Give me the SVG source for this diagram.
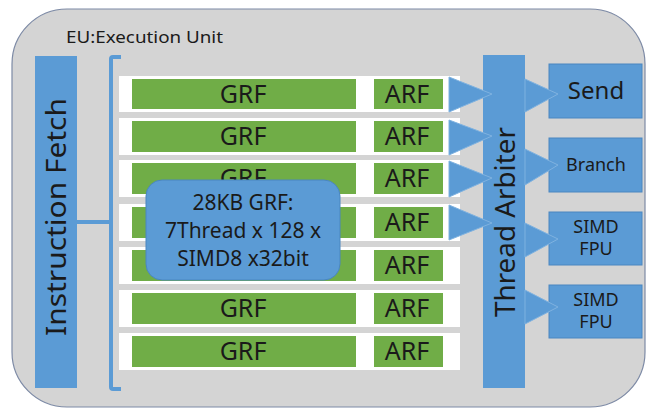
<svg xmlns="http://www.w3.org/2000/svg" width="651" height="410" viewBox="0 0 651 410">
<style>
.t{font-family:"Noto Sans","Liberation Sans",sans-serif;fill:#1a1a1a;text-anchor:middle}
.blue{fill:#5b9bd5}
.box{fill:#5b9bd5;stroke:#4a86c0;stroke-width:1}
.tri{fill:#5b9bd5;stroke:#7fb2e0;stroke-width:1}
.row{fill:#ffffff}
.grn{fill:#70ad47}
.big{font-size:25px}
.sm{font-size:18px}
</style>
<rect x="12" y="9" width="633" height="398" rx="55" ry="55" fill="#d4d4d4" stroke="#7d8aa5" stroke-width="1.2"/>
<text x="66" y="43" class="t" style="text-anchor:start;font-size:17px" textLength="157" lengthAdjust="spacingAndGlyphs">EU:Execution Unit</text>

<g id="connectors">
<path d="M77 222 H111" stroke="#5b9bd5" stroke-width="4" fill="none"/>
<path d="M121 57 H113 Q111 57 111 59 V387 Q111 389 113 389 H121" stroke="#5b9bd5" stroke-width="4" fill="none"/>
</g>

<g id="instruction-fetch">
<rect x="35" y="56" width="42" height="332" class="blue"/>
<text class="t" transform="translate(66 217) rotate(-90)" style="font-size:28px" textLength="238" lengthAdjust="spacingAndGlyphs">Instruction Fetch</text>
</g>

<g id="row1"><rect x="119" y="76" width="341" height="36" class="row"/><rect x="132" y="79" width="224" height="30" class="grn"/><rect x="374" y="79" width="69" height="30" class="grn"/><text x="243" y="103" class="t big">GRF</text><text x="407" y="103" class="t big">ARF</text></g>
<g id="row2"><rect x="119" y="118" width="341" height="37" class="row"/><rect x="132" y="121" width="224" height="31" class="grn"/><rect x="374" y="121" width="69" height="31" class="grn"/><text x="243" y="145" class="t big">GRF</text><text x="407" y="145" class="t big">ARF</text></g>
<g id="row3"><rect x="119" y="160" width="341" height="37" class="row"/><rect x="132" y="163" width="224" height="31" class="grn"/><rect x="374" y="163" width="69" height="31" class="grn"/><text x="243" y="187" class="t big">GRF</text><text x="407" y="187" class="t big">ARF</text></g>
<g id="row4"><rect x="119" y="204" width="341" height="37" class="row"/><rect x="132" y="207" width="224" height="31" class="grn"/><rect x="374" y="207" width="69" height="31" class="grn"/><text x="407" y="231" class="t big">ARF</text></g>
<g id="row5"><rect x="119" y="247" width="341" height="37" class="row"/><rect x="132" y="250" width="224" height="31" class="grn"/><rect x="374" y="250" width="69" height="31" class="grn"/><text x="407" y="274" class="t big">ARF</text></g>
<g id="row6"><rect x="119" y="290" width="341" height="37" class="row"/><rect x="132" y="293" width="224" height="31" class="grn"/><rect x="374" y="293" width="69" height="31" class="grn"/><text x="243" y="317" class="t big">GRF</text><text x="407" y="317" class="t big">ARF</text></g>
<g id="row7"><rect x="119" y="333" width="341" height="37" class="row"/><rect x="132" y="336" width="224" height="31" class="grn"/><rect x="374" y="336" width="69" height="31" class="grn"/><text x="243" y="360" class="t big">GRF</text><text x="407" y="360" class="t big">ARF</text></g>

<g id="callout">
<rect x="146" y="180" width="194" height="100" rx="16" ry="16" class="box"/>
<text class="t" style="font-size:21px"><tspan x="243" y="210">28KB GRF:</tspan><tspan x="243" y="238">7Thread x 128 x</tspan><tspan x="243" y="266">SIMD8 x32bit</tspan></text>
</g>

<g id="thread-arbiter">
<rect x="483" y="55" width="42" height="333" class="blue"/>
<text class="t" transform="translate(515 222) rotate(-90)" style="font-size:28px" textLength="190" lengthAdjust="spacingAndGlyphs">Thread Arbiter</text>
</g>

<g id="send"><rect x="549" y="64" width="93" height="54" class="box"/><text x="596" y="99" class="t" style="font-size:24px">Send</text></g>
<g id="branch"><rect x="549" y="138" width="93" height="54" class="box"/><text x="596" y="171" class="t sm">Branch</text></g>
<g id="simd-fpu-1"><rect x="549" y="212" width="93" height="53" class="box"/><text class="t sm"><tspan x="596" y="233">SIMD</tspan><tspan x="596" y="255">FPU</tspan></text></g>
<g id="simd-fpu-2"><rect x="549" y="285" width="93" height="53" class="box"/><text class="t sm"><tspan x="596" y="306">SIMD</tspan><tspan x="596" y="328">FPU</tspan></text></g>

<g id="arrows">
<polygon points="449,77 449,112 492,94" class="tri"/>
<polygon points="449,120 449,155 492,136" class="tri"/>
<polygon points="449,161 449,197 492,178" class="tri"/>
<polygon points="449,205 449,240 492,223" class="tri"/>
<polygon points="525,79 525,112 558,94" class="tri"/>
<polygon points="525,149 525,185 558,165" class="tri"/>
<polygon points="525,223 525,257 558,239" class="tri"/>
<polygon points="525,290 525,324 558,307" class="tri"/>
</g>
</svg>
